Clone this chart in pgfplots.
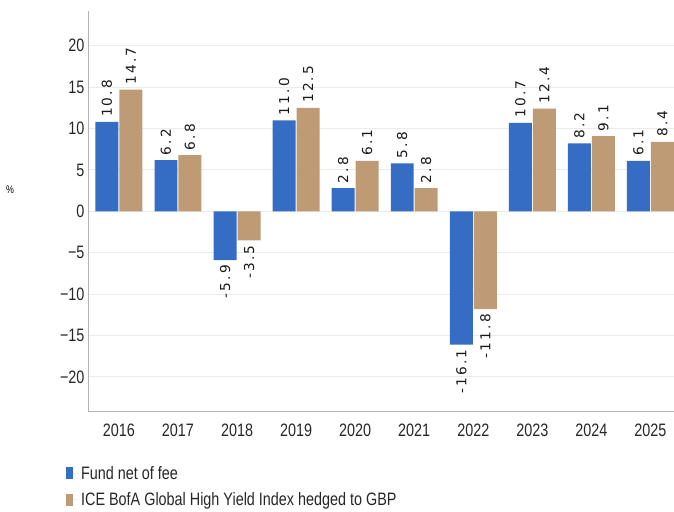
\documentclass[border=0pt]{standalone}
\usepackage{pgfplots}
\pgfplotsset{compat=1.18}
\usepackage{fontspec}
\setmainfont{Liberation Sans}
\newfontfamily\narrowfont[FakeStretch=0.8]{Liberation Sans}
\newfontfamily\valfont[LetterSpace=16]{DejaVu Sans}
\definecolor{fundblue}{RGB}{53,108,196}
\definecolor{indextan}{RGB}{190,155,116}
\definecolor{gridc}{RGB}{232,235,239}
\definecolor{axisc}{RGB}{180,180,180}
\begin{document}
\begin{tikzpicture}
\begin{axis}[
  scale only axis,
  width=585bp, height=401bp,
  xmin=-0.508, xmax=9.39,
  ymin=-24.2, ymax=24.2,
  ybar=1bp, bar width=23bp,
  axis x line*=bottom, axis y line*=left,
  axis line style={axisc, line width=1bp, -},
  xtick={0,...,9},
  xticklabels={2016,2017,2018,2019,2020,2021,2022,2023,2024,2025},
  ytick={-20,-15,-10,-5,0,5,10,15,20},
  yticklabels={−20,−15,−10,−5,0,5,10,15,20},
  major tick length=0pt,
  ymajorgrids, grid style={gridc, line width=1bp},
  tick label style={font=\narrowfont\fontsize{18bp}{20bp}\selectfont, text=black!85},
  xticklabel style={yshift=-9bp},
  yticklabel style={xshift=-1bp},
  ylabel={\%},
  ylabel style={rotate=-90, at={(axis description cs:-0.135,0.555)}, anchor=center, font=\narrowfont\fontsize{11bp}{12bp}\selectfont},
  nodes near coords={\pgfmathprintnumber[fixed,fixed zerofill,precision=1,assume math mode=true]{\pgfplotspointmeta}},
  visualization depends on={rawy \as \rawy},
  every node near coord/.append style={rotate=90, font=\valfont\fontsize{13.7bp}{15bp}\selectfont, text=black!90, inner sep=0pt, outer sep=5bp,
    anchor=\ifdim\rawy pt<0pt east\else west\fi},
  legend style={overlay, at={(axis description cs:-0.0393,-0.13)}, anchor=north west, draw=none, fill=none,
    font=\narrowfont\fontsize{18bp}{20bp}\selectfont, text=black!85, row sep=8bp, inner sep=0pt},
  legend cell align=left,
  legend image code/.code={\fill[#1, draw=none] (0bp,-6bp) rectangle (7bp,6bp); \path (0bp,0bp) -- (13bp,0bp);},
  clip=false,
]
\addplot[fill=fundblue, draw=none] coordinates {(0,10.8) (1,6.2) (2,-5.9) (3,11.0) (4,2.8) (5,5.8) (6,-16.1) (7,10.7) (8,8.2) (9,6.1)};
\addplot[fill=indextan, draw=none] coordinates {(0,14.7) (1,6.8) (2,-3.5) (3,12.5) (4,6.1) (5,2.8) (6,-11.8) (7,12.4) (8,9.1) (9,8.4)};
\legend{Fund net of fee, ICE BofA Global High Yield Index hedged to GBP}
\end{axis}
\useasboundingbox ([xshift=-89bp,yshift=-100bp]current axis.south west) rectangle ([xshift=0bp,yshift=11bp]current axis.north east);
\end{tikzpicture}
\end{document}
